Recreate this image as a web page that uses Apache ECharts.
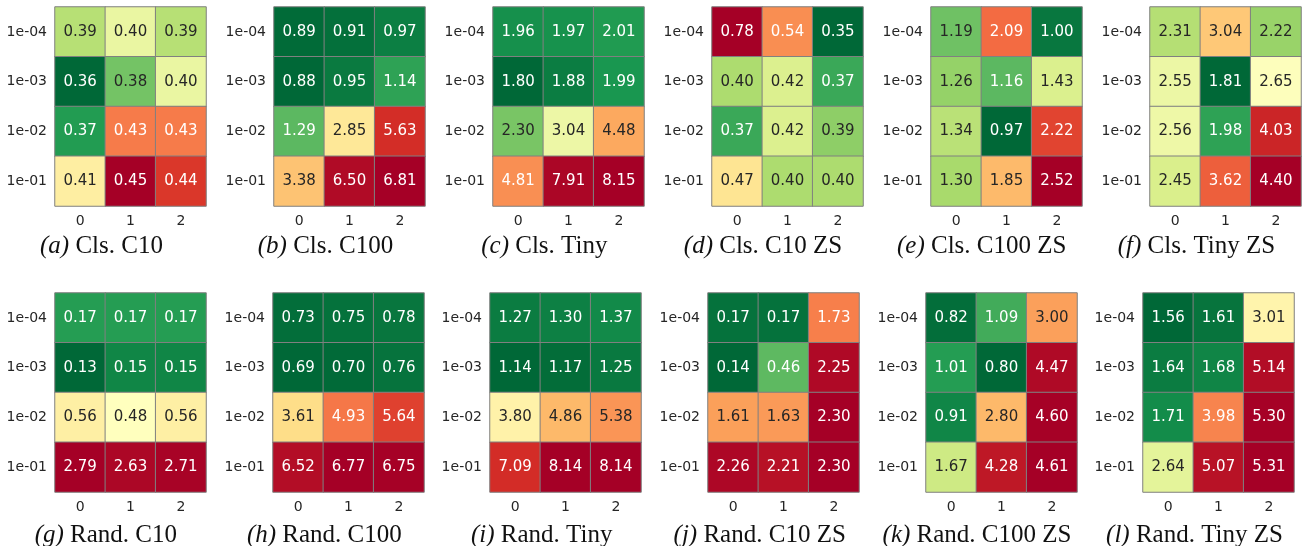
<!DOCTYPE html>
<html><head><meta charset="utf-8">
<script src="https://cdn.jsdelivr.net/npm/echarts@6/dist/echarts.min.js"></script>
<style>html,body{margin:0;padding:0;background:#fff}#c{width:1302px;height:546px}</style>
</head><body><div id="c"></div>
<script>
// tick labels
const xLabels = ['0', '1', '2'];
const yLabels = ['1e-04', '1e-03', '1e-02', '1e-01'];
// values, rows top (1e-04) to bottom (1e-01), columns 0..2
const clsC10      = [[0.39,0.40,0.39],[0.36,0.38,0.40],[0.37,0.43,0.43],[0.41,0.45,0.44]];
const clsC100     = [[0.89,0.91,0.97],[0.88,0.95,1.14],[1.29,2.85,5.63],[3.38,6.50,6.81]];
const clsTiny     = [[1.96,1.97,2.01],[1.80,1.88,1.99],[2.30,3.04,4.48],[4.81,7.91,8.15]];
const clsC10ZS    = [[0.78,0.54,0.35],[0.40,0.42,0.37],[0.37,0.42,0.39],[0.47,0.40,0.40]];
const clsC100ZS   = [[1.19,2.09,1.00],[1.26,1.16,1.43],[1.34,0.97,2.22],[1.30,1.85,2.52]];
const clsTinyZS   = [[2.31,3.04,2.22],[2.55,1.81,2.65],[2.56,1.98,4.03],[2.45,3.62,4.40]];
const randC10     = [[0.17,0.17,0.17],[0.13,0.15,0.15],[0.56,0.48,0.56],[2.79,2.63,2.71]];
const randC100    = [[0.73,0.75,0.78],[0.69,0.70,0.76],[3.61,4.93,5.64],[6.52,6.77,6.75]];
const randTiny    = [[1.27,1.30,1.37],[1.14,1.17,1.25],[3.80,4.86,5.38],[7.09,8.14,8.14]];
const randC10ZS   = [[0.17,0.17,1.73],[0.14,0.46,2.25],[1.61,1.63,2.30],[2.26,2.21,2.30]];
const randC100ZS  = [[0.82,1.09,3.00],[1.01,0.80,4.47],[0.91,2.80,4.60],[1.67,4.28,4.61]];
const randTinyZS  = [[1.56,1.61,3.01],[1.64,1.68,5.14],[1.71,3.98,5.30],[2.64,5.07,5.31]];
const captions = ['Cls. C10','Cls. C100','Cls. Tiny','Cls. C10 ZS','Cls. C100 ZS','Cls. Tiny ZS',
                  'Rand. C10','Rand. C100','Rand. Tiny','Rand. C10 ZS','Rand. C100 ZS','Rand. Tiny ZS'];
const letters = ['a','b','c','d','e','f','g','h','i','j','k','l'];
const panelData = [clsC10, clsC100, clsTiny, clsC10ZS, clsC100ZS, clsTinyZS,
                   randC10, randC100, randTiny, randC10ZS, randC100ZS, randTinyZS];

// colour-scale exponent per panel (0 = log scale)
const colorGamma = [1, 0, -0.6, -2.3, 0, -0.6, -0.2, 0.5, 0.3, 0.8, 0.2, 0];
// layout
const gridLeft = [55, 274, 493, 712, 931, 1150, 55, 273, 490, 708, 926, 1143];
const gridTop  = [7, 7, 7, 7, 7, 7, 293, 293, 293, 293, 293, 293];
const capX = [101.5, 325.5, 544.3, 763, 981.7, 1196.5, 105.8, 324.3, 541.7, 759.7, 977, 1194.5];
const capY = [246, 246, 246, 246, 246, 246, 535, 535, 535, 535, 535, 535];

const CMAP = ['#006837','#1a9850','#66bd63','#a6d96a','#d9ef8b','#ffffbf','#fee08b','#fdae61','#f46d43','#d73027','#a50026'];
function hex2rgb(h){return [parseInt(h.slice(1,3),16),parseInt(h.slice(3,5),16),parseInt(h.slice(5,7),16)];}
function cmap(t){
  t=Math.max(0,Math.min(1,t)); const p=t*10; const i=Math.min(9,Math.floor(p)); const f=p-i;
  const a=hex2rgb(CMAP[i]), b=hex2rgb(CMAP[i+1]);
  return [0,1,2].map(k=>a[k]+(b[k]-a[k])*f);
}
function lum(rgb){
  const c=rgb.map(v=>{v/=255;return v<=0.03928?v/12.92:Math.pow((v+0.055)/1.055,2.4);});
  return 0.2126*c[0]+0.7152*c[1]+0.0722*c[2];
}
function tf(v,g){return g===0?Math.log(v):Math.pow(v,g)/g;}

const grids=[],xAxes=[],yAxes=[],series=[],graphics=[];
panelData.forEach((rows,p)=>{
  const flat=rows.flat(); const mn=Math.min(...flat), mx=Math.max(...flat); const g=colorGamma[p];
  const data=[];
  rows.forEach((r,yi)=>r.forEach((v,xi)=>{
    const t=(tf(v,g)-tf(mn,g))/(tf(mx,g)-tf(mn,g));
    const txt = lum(cmap(t))>0.408 ? '#262626' : '#ffffff';
    data.push({value:[xi,yi,v,t],label:{color:txt}});
  }));
  grids.push({left:gridLeft[p],top:gridTop[p],width:151,height:199});
  xAxes.push({type:'category',gridIndex:p,data:xLabels,axisLine:{show:false},axisTick:{show:false},splitLine:{show:false},
    axisLabel:{margin:8,fontSize:14,fontFamily:'DejaVu Sans',color:'#262626'}});
  yAxes.push({type:'category',gridIndex:p,data:yLabels,inverse:true,axisLine:{show:false},axisTick:{show:false},splitLine:{show:false},
    axisLabel:{margin:8,fontSize:14,fontFamily:'DejaVu Sans',color:'#262626'}});
  series.push({type:'heatmap',xAxisIndex:p,yAxisIndex:p,data:data,
    itemStyle:{borderColor:'#808080',borderWidth:1},
    label:{show:true,fontSize:15,fontFamily:'DejaVu Sans',formatter:(o)=>o.value[2].toFixed(2)},
    emphasis:{disabled:true}});
  graphics.push({type:'text',x:capX[p],y:capY[p],style:{text:'{i|('+letters[p]+')} '+captions[p],
    align:'center',verticalAlign:'middle',font:'25px "Liberation Serif"',fill:'#111',
    rich:{i:{fontStyle:'italic',fontFamily:'Liberation Serif',fontSize:25,fill:'#111'}}}});
});

const chart=echarts.init(document.getElementById('c'),null,{renderer:'canvas'});
chart.setOption({
  animation:false,
  grid:grids,xAxis:xAxes,yAxis:yAxes,
  visualMap:{type:'continuous',show:false,min:0,max:1,dimension:3,seriesIndex:series.map((s,i)=>i),inRange:{color:CMAP}},
  series:series,
  graphic:graphics
});
</script></body></html>
